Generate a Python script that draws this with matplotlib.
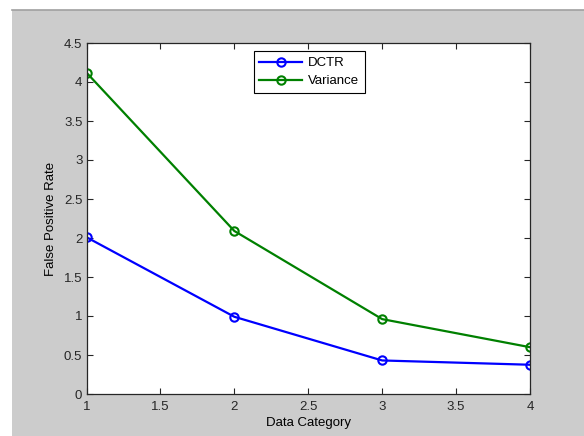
import numpy as np
import matplotlib.pyplot as plt
from matplotlib.patches import Rectangle
from matplotlib.lines import Line2D

plt.rcParams['font.family'] = ['Liberation Sans', 'DejaVu Sans']

# Data
kategori = [1, 2, 3, 4]
dctr = [2.01, 0.99, 0.43, 0.375]
varians = [4.12, 2.09, 0.96, 0.60]
x_ticks = [1, 1.5, 2, 2.5, 3, 3.5, 4]
y_ticks = [0, 0.5, 1, 1.5, 2, 2.5, 3, 3.5, 4, 4.5]

W, H = 584, 436
fig = plt.figure(figsize=(W / 100, H / 100), dpi=100)
fig.patch.set_facecolor('white')

# Graa bakgrunn som i MATLAB-vinduet
fig.patches.append(Rectangle((12 / W, 0), 1, (H - 10) / H, transform=fig.transFigure,
                             facecolor='#cccccc', edgecolor='none', zorder=-10))
fig.lines.append(Line2D([12 / W, 1], [(H - 10) / H] * 2, transform=fig.transFigure,
                        color='#a0a0a0', linewidth=1.2))

ax = fig.add_axes([86.5 / W, (H - 394) / H, (530 - 86.5) / W, (394 - 43) / H])
ax.set_facecolor('white')

ax.plot(kategori, dctr, '-o', color='blue', linewidth=1.6, markersize=6,
        markerfacecolor='none', markeredgewidth=1.5, label='DCTR')
ax.plot(kategori, varians, '-o', color='green', linewidth=1.6, markersize=6,
        markerfacecolor='none', markeredgewidth=1.5, label='Variance')

ax.set_xlim(1, 4)
ax.set_ylim(0, 4.5)
ax.set_xticks(x_ticks)
ax.set_yticks(y_ticks)
ax.set_xticklabels(['%g' % v for v in x_ticks])
ax.set_yticklabels(['%g' % v for v in y_ticks])
ax.tick_params(direction='in', top=True, right=True, length=4, width=0.8,
               labelsize=9.5, colors='#262626')
ax.tick_params(axis='x', pad=5)
ax.tick_params(axis='y', pad=3)
for s in ax.spines.values():
    s.set_color('#262626')
    s.set_linewidth(0.9)

ax.set_xlabel('Data Category', fontsize=9.5, labelpad=3)
ax.set_ylabel('False Positive Rate', fontsize=9.5, labelpad=5)

leg = ax.legend(loc='upper center', bbox_to_anchor=(0.502, 0.977), borderaxespad=0,
                fancybox=False, edgecolor='black', framealpha=1, fontsize=9.5,
                handlelength=3.2, borderpad=0.45, labelspacing=0.45,
                handletextpad=0.45)
leg.get_frame().set_linewidth(0.8)

plt.savefig('out.png', dpi=100)
